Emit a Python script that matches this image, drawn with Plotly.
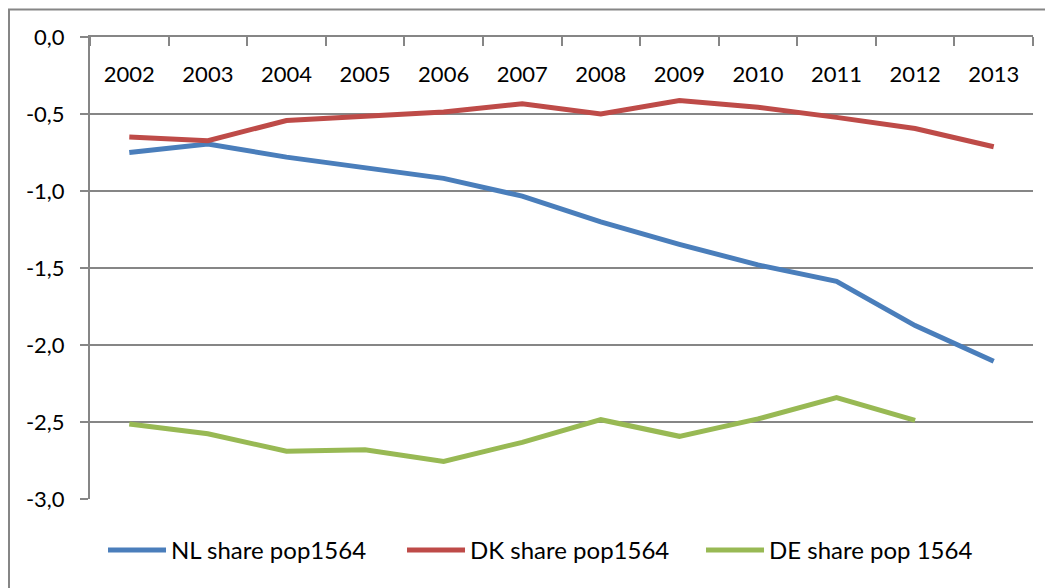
import plotly.graph_objects as go

years = [2002, 2003, 2004, 2005, 2006, 2007, 2008, 2009, 2010, 2011, 2012, 2013]
nl_share = [-0.75, -0.695, -0.78, -0.85, -0.918, -1.033, -1.20, -1.346, -1.48, -1.587, -1.874, -2.105]
dk_share = [-0.649, -0.673, -0.542, -0.513, -0.487, -0.434, -0.50, -0.412, -0.456, -0.522, -0.594, -0.713]
de_share = [-2.513, -2.576, -2.69, -2.68, -2.756, -2.632, -2.485, -2.593, -2.48, -2.342, -2.489, None]

y_ticks = [0, -0.5, -1.0, -1.5, -2.0, -2.5, -3.0]
y_labels = ["0,0", "-0,5", "-1,0", "-1,5", "-2,0", "-2,5", "-3,0"]

font = "Lato"
grey = "#868686"

fig = go.Figure()
fig.add_trace(go.Scatter(x=years, y=nl_share, name="NL share pop1564", mode="lines",
                         line=dict(color="#4A7EBB", width=5)))
fig.add_trace(go.Scatter(x=years, y=dk_share, name="DK share pop1564", mode="lines",
                         line=dict(color="#BE4B48", width=5)))
fig.add_trace(go.Scatter(x=years, y=de_share, name="DE share pop 1564", mode="lines",
                         line=dict(color="#98B954", width=5)))
# empty trace so the top axis (x2) gets drawn
fig.add_trace(go.Scatter(x=[], y=[], xaxis="x2", showlegend=False, hoverinfo="skip"))

# the page body has an 8px margin, so the figure is shifted in by that much
fig.update_layout(
    width=1053, height=588,
    margin=dict(l=82, r=28, t=29, b=97),
    paper_bgcolor="white", plot_bgcolor="white",
    font=dict(family=font, size=22, color="black"),
    showlegend=True,
    legend=dict(orientation="h", x=0.0138, xanchor="left", y=-0.111, yanchor="middle",
                font=dict(size=24), itemwidth=58, entrywidth=226, traceorder="normal"),
    shapes=[dict(type="rect", xref="paper", yref="paper",
                 x0=-0.0859, x1=1.2, y0=-0.4, y1=1.0595,
                 line=dict(color=grey, width=2), layer="below")],
)

# x axis carrying the data and year labels, drawn a bit below the top line
fig.update_xaxes(
    range=[2001.5, 2013.5], tickvals=years,
    side="top", anchor="free", position=0.894,
    ticks="", showline=False, showgrid=False, zeroline=False,
)
# top axis line with ticks between the years
fig.update_layout(xaxis2=dict(
    overlaying="x", anchor="y", side="top", range=[2001.5, 2013.5],
    showticklabels=False, ticks="",
    showline=True, linecolor=grey, linewidth=2,
    showgrid=False, zeroline=False,
    minor=dict(tick0=2001.5, dtick=1, ticks="inside", ticklen=9,
               tickcolor=grey, tickwidth=2, showgrid=False),
))
fig.update_yaxes(
    range=[-3, 0], tickvals=y_ticks, ticktext=y_labels,
    ticks="outside", ticklen=8, tickcolor=grey, tickwidth=2, ticklabelstandoff=11,
    showline=True, linecolor=grey, linewidth=2,
    showgrid=True, gridcolor=grey, gridwidth=2, zeroline=False,
)

fig.write_html("out.html")
